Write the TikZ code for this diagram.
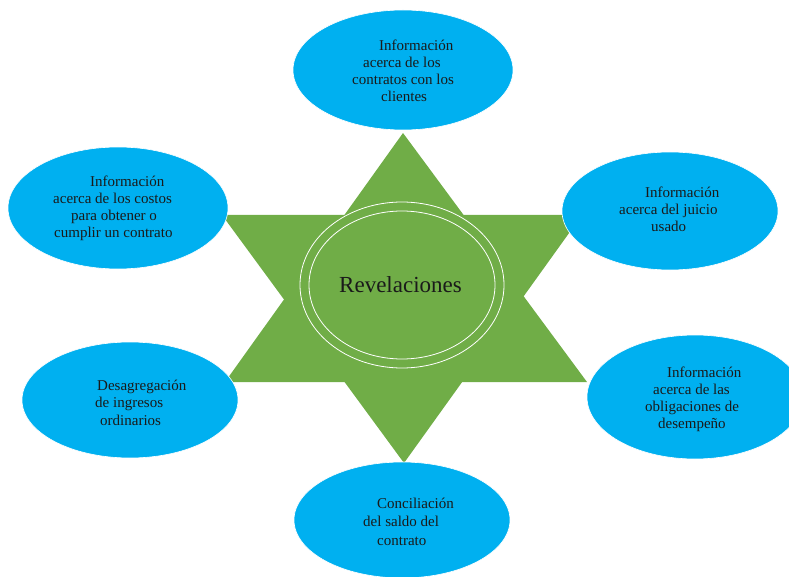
\documentclass[tikz,border=0pt]{standalone}
\usepackage{fontspec}
\setmainfont{Liberation Serif}
\usetikzlibrary{shapes.geometric}
\definecolor{bubblecol}{HTML}{00B0F0}
\definecolor{stargreen}{HTML}{70AD47}
\definecolor{txtcol}{HTML}{1A1A1A}
\begin{document}
\begin{tikzpicture}[x=1pt,y=-1pt,
  bubble/.style={ellipse, fill=bubblecol, draw=white, line width=0.6pt, inner sep=0pt},
  lbl/.style={anchor=base west, inner sep=0pt, text=txtcol, font=\fontsize{15}{17}\selectfont},
  starpart/.style={fill=stargreen, draw=none}]
\useasboundingbox (0,0) rectangle (789,577);

% star (hexagram)
\fill[starpart] (403,133) -- (225,382) -- (587,382) -- cycle;
\fill[starpart] (222,215) -- (582,215) -- (404,463) -- cycle;

% central double ellipse
\node[ellipse, draw=white, line width=0.8pt, minimum width=204pt, minimum height=166pt, inner sep=0pt] (outer) at (402,285) {};
\node[ellipse, draw=white, line width=0.8pt, minimum width=186pt, minimum height=148pt, inner sep=0pt] (inner) at (402,285) {};
\node[anchor=base west, inner sep=0pt, text=txtcol, font=\fontsize{23}{27}\selectfont] (rev) at (339,292) {Revelaciones};

% bubbles
\node[bubble, minimum width=220pt, minimum height=120pt] (top) at (403,70) {};
\node[bubble, minimum width=220pt, minimum height=122pt] (tl) at (118,208) {};
\node[bubble, minimum width=216pt, minimum height=118pt] (tr) at (670,211) {};
\node[bubble, minimum width=216pt, minimum height=116pt] (bl) at (130,400) {};
\node[bubble, minimum width=216pt, minimum height=124pt] (br) at (695,397) {};
\node[bubble, minimum width=216pt, minimum height=116pt] (bot) at (402,520) {};

% texts
\node[lbl] (ttop) at (352,51) {\begin{tabular}[t]{@{}l@{}}\hspace*{27pt}Información\\\hspace*{11pt}acerca de los\\contratos con los\\\hspace*{29pt}clientes\end{tabular}};
\node[lbl] (ttl) at (53,187) {\begin{tabular}[t]{@{}l@{}}\hspace*{37pt}Información\\acerca de los costos\\\hspace*{18pt}para obtener o\\\hspace*{1pt}cumplir un contrato\end{tabular}};
\node[lbl] (ttr) at (619,198) {\begin{tabular}[t]{@{}l@{}}\hspace*{26pt}Información\\acerca del juicio\\\hspace*{32pt}usado\end{tabular}};
\node[lbl, font=\fontsize{15}{17.5}\selectfont] (tbl) at (95,390) {\begin{tabular}[t]{@{}l@{}}\hspace*{2pt}Desagregación\\de ingresos\\\hspace*{5pt}ordinarios\end{tabular}};
\node[lbl] (tbr) at (645,377) {\begin{tabular}[t]{@{}l@{}}\hspace*{22pt}Información\\\hspace*{8pt}acerca de las\\obligaciones de\\\hspace*{13pt}desempeño\end{tabular}};
\node[lbl, font=\fontsize{15}{18.5}\selectfont] (tbot) at (363,508) {\begin{tabular}[t]{@{}l@{}}\hspace*{14pt}Conciliación\\del saldo del\\\hspace*{14pt}contrato\end{tabular}};
\end{tikzpicture}
\end{document}
